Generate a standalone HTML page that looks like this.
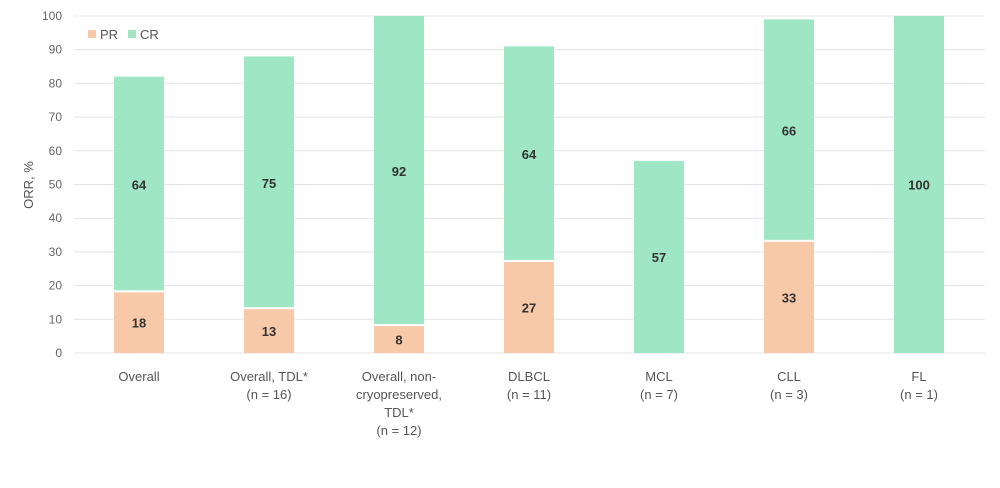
<!DOCTYPE html>
<html><head><meta charset="utf-8"><style>
body{margin:0;background:#fff;}
svg{display:block;font-family:"Liberation Sans","DejaVu Sans",sans-serif;}
</style></head><body>
<svg id="c" width="1000" height="488" xmlns="http://www.w3.org/2000/svg"></svg>
<script>
const s=document.getElementById('c');let h='';
const y=v=>353-3.37*v;
for(let v=0;v<=100;v+=10){h+=`<line x1="74" x2="985" y1="${y(v)}" y2="${y(v)}" stroke="#e3e3e3" stroke-width="1"/>`;
h+=`<text x="62" y="${y(v)+4}" font-size="12" fill="#666" text-anchor="end">${v}</text>`;}
h+=`<text transform="translate(33,185) rotate(-90)" font-size="13" fill="#555" text-anchor="middle">ORR, %</text>`;
const d=[[18,64,["Overall"]],[13,75,["Overall, TDL*","(n = 16)"]],[8,92,["Overall, non-","cryopreserved,","TDL*","(n = 12)"]],[27,64,["DLBCL","(n = 11)"]],[0,57,["MCL","(n = 7)"]],[33,66,["CLL","(n = 3)"]],[0,100,["FL","(n = 1)"]]];
d.forEach((b,i)=>{const cx=139+130*i,x=cx-25;const [pr,cr,lab]=b;
if(pr>0){h+=`<rect x="${x}" y="${y(pr)}" width="50" height="${y(0)-y(pr)}" fill="#f7c9a9"/>`;
h+=`<text x="${cx}" y="${(y(pr)+y(0))/2+5}" font-size="13" font-weight="bold" fill="#333" text-anchor="middle">${pr}</text>`;}
const t=pr+cr;
h+=`<rect x="${x}" y="${y(t)}" width="50" height="${y(pr)-y(t)-(pr>0?2:0)}" fill="#9fe6c5"/>`;
h+=`<text x="${cx}" y="${(y(t)+y(pr))/2+5}" font-size="13" font-weight="bold" fill="#333" text-anchor="middle">${cr}</text>`;
lab.forEach((l,j)=>{h+=`<text x="${cx}" y="${381+j*18}" font-size="13" fill="#555" text-anchor="middle">${l}</text>`;});
});
h+=`<rect x="88" y="30" width="8" height="8" fill="#f7c9a9"/><text x="100" y="39" font-size="13" fill="#555">PR</text>`;
h+=`<rect x="128" y="30" width="8" height="8" fill="#9fe6c5"/><text x="140" y="39" font-size="13" fill="#555">CR</text>`;
s.innerHTML=h;
</script>
</body></html>
